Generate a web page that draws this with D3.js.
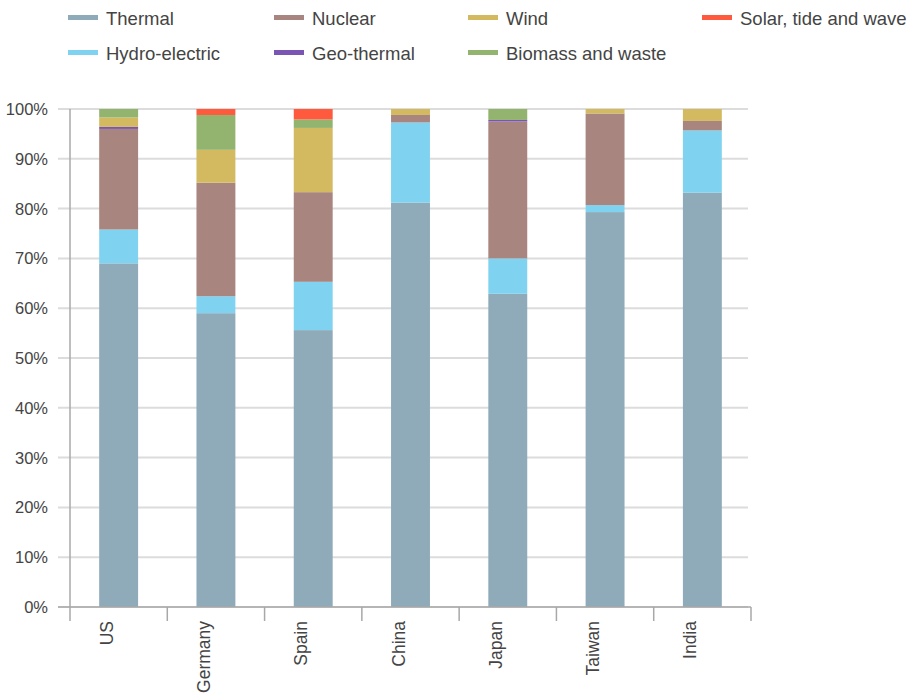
<!DOCTYPE html>
<html>
<head>
<meta charset="utf-8">
<script src="https://cdn.jsdelivr.net/npm/d3@7"></script>
<style>
  body { margin: 0; background: #fff; }
  text { font-family: "Liberation Sans", Arial, sans-serif; fill: #444; }
</style>
</head>
<body>
<svg id="chart"></svg>
<script>
// Countries along the x axis
const countries = ["US", "Germany", "Spain", "China", "Japan", "Taiwan", "India"];

// Share of generation by source (%), stacked bottom to top
const thermal = [69.0, 59.0, 55.6, 81.2, 62.9, 79.3, 83.2];
const hydro   = [6.8, 3.4, 9.7, 16.1, 7.1, 1.4, 12.5];
const nuclear = [20.2, 22.8, 18.0, 1.5, 27.5, 18.4, 1.9];
const geo     = [0.4, 0, 0, 0, 0.3, 0, 0];
const wind    = [1.9, 6.6, 12.9, 1.2, 0, 0.9, 2.4];
const biomass = [1.7, 7.0, 1.7, 0, 2.2, 0, 0];
const solar   = [0, 1.2, 2.1, 0, 0, 0, 0];

const yTicks = [0, 10, 20, 30, 40, 50, 60, 70, 80, 90, 100];

const series = [
  { name: "Thermal", values: thermal, color: "#8faab8" },
  { name: "Hydro-electric", values: hydro, color: "#7fd3f1" },
  { name: "Nuclear", values: nuclear, color: "#a8857e" },
  { name: "Geo-thermal", values: geo, color: "#7b55b3" },
  { name: "Wind", values: wind, color: "#d3ba60" },
  { name: "Biomass and waste", values: biomass, color: "#93b46f" },
  { name: "Solar, tide and wave", values: solar, color: "#ff5a3d" }
];

// legend order as in the picture (two rows)
const legendOrder = ["Thermal", "Nuclear", "Wind", "Solar, tide and wave",
                     "Hydro-electric", "Geo-thermal", "Biomass and waste"];

const width = 912, height = 696;
const margin = { top: 109, left: 70, right: 161, bottom: 89 };

const svg = d3.select("#chart").attr("width", width).attr("height", height);

const rows = countries.map((c, i) => {
  const r = { country: c };
  series.forEach(s => { r[s.name] = s.values[i]; });
  return r;
});
const stacked = d3.stack().keys(series.map(s => s.name))(rows);

const x = d3.scaleBand()
  .domain(countries)
  .range([margin.left, width - margin.right])
  .padding(0);

const y = d3.scaleLinear()
  .domain([0, 100])
  .range([height - margin.bottom - 0, margin.top]);

// grid lines
svg.append("g")
  .selectAll("line")
  .data(yTicks)
  .join("line")
  .attr("x1", margin.left - 12)
  .attr("x2", width - margin.right - 3)
  .attr("y1", d => y(d))
  .attr("y2", d => y(d))
  .attr("stroke", "#dcdcdc")
  .attr("stroke-width", 2);

// y tick labels
svg.append("g")
  .selectAll("text")
  .data(yTicks)
  .join("text")
  .attr("x", 48)
  .attr("y", d => y(d))
  .attr("dy", "0.36em")
  .attr("text-anchor", "end")
  .style("font-size", "16.5px")
  .text(d => d + "%");

// bars
const barW = x.bandwidth() * 0.4;
svg.append("g")
  .selectAll("g")
  .data(stacked)
  .join("g")
  .attr("fill", d => series.find(s => s.name === d.key).color)
  .selectAll("rect")
  .data(d => d)
  .join("rect")
  .attr("x", d => x(d.data.country) + (x.bandwidth() - barW) / 2)
  .attr("width", barW)
  .attr("y", d => y(d[1]))
  .attr("height", d => y(d[0]) - y(d[1]));

// axes lines
const axisColor = "#a8a8a8";
const y0 = y(0);
svg.append("line")
  .attr("x1", margin.left).attr("x2", margin.left)
  .attr("y1", y(100)).attr("y2", y0 + 14)
  .attr("stroke", axisColor).attr("stroke-width", 1.5);
svg.append("line")
  .attr("x1", margin.left - 12).attr("x2", width - margin.right)
  .attr("y1", y0).attr("y2", y0)
  .attr("stroke", axisColor).attr("stroke-width", 1.5);
svg.append("g")
  .selectAll("line")
  .data(countries.slice(1).concat(["end"]))
  .join("line")
  .attr("x1", d => d === "end" ? width - margin.right : x(d))
  .attr("x2", d => d === "end" ? width - margin.right : x(d))
  .attr("y1", y0).attr("y2", y0 + 14)
  .attr("stroke", axisColor).attr("stroke-width", 1.5);

// x labels (rotated)
svg.append("g")
  .selectAll("text")
  .data(countries)
  .join("text")
  .attr("transform", d => `translate(${x(d) + x.bandwidth() / 2 - 6},${y0 + 14}) rotate(-90)`)
  .attr("text-anchor", "end")
  .style("font-size", "17.5px")
  .text(d => d);

// legend
const legendX = [68, 274, 468, 702];
const legendY = [18, 53];
const legend = svg.append("g")
  .selectAll("g")
  .data(legendOrder)
  .join("g")
  .attr("transform", (d, i) => `translate(${legendX[i % 4]},${legendY[Math.floor(i / 4)]})`);
legend.append("rect")
  .attr("x", 0).attr("y", -3)
  .attr("width", 30).attr("height", 5)
  .attr("fill", d => series.find(s => s.name === d).color);
legend.append("text")
  .attr("x", 38)
  .attr("y", 0)
  .attr("dy", "0.36em")
  .style("font-size", "18.5px")
  .text(d => d);
</script>
</body>
</html>
